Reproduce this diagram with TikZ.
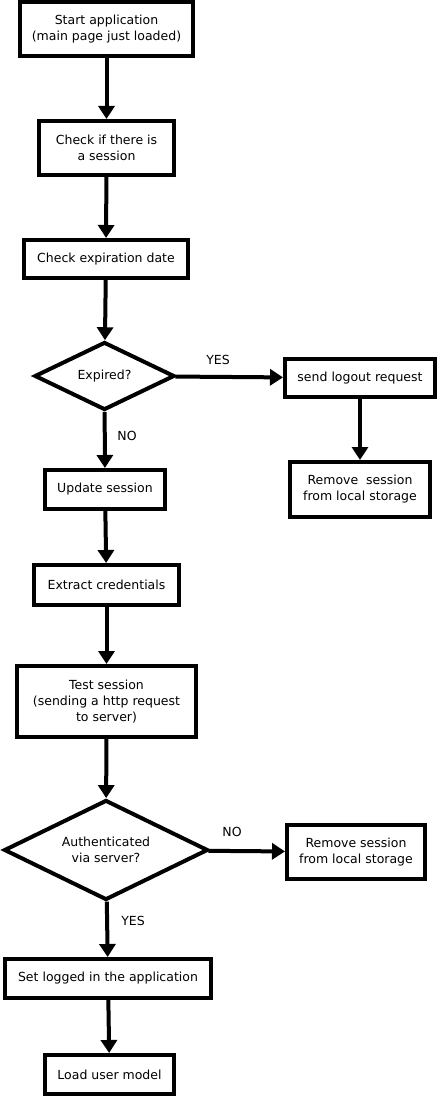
\documentclass[tikz,border=0pt]{standalone}
\usepackage{fontspec}
\setmainfont{DejaVu Sans}
\usepackage{tikz}
\usetikzlibrary{arrows.meta}
\usetikzlibrary{shapes}
\usetikzlibrary{shapes.geometric}

\begin{document}
\begin{tikzpicture}[x=1pt, y=-1pt,
    box/.style={draw, line width=4pt, rectangle, align=center, inner sep=0pt,
      font=\fontsize{12.5}{16}\selectfont},
    test/.style={draw, line width=4pt, diamond, aspect=2, align=center, inner sep=0pt,
      font=\fontsize{12.5}{16}\selectfont},
    flow/.style={line width=4pt, -{Triangle[length=13pt, width=16pt]}},
    tag/.style={font=\fontsize{12.5}{16}\selectfont}
  ]
    \useasboundingbox (0, 0) rectangle (438, 1097);
    \node[box, minimum width=173, minimum height=54] (start) at (106.5, 29) {Start application\\(main page just loaded)};
    \node[box, minimum width=135, minimum height=54] (check) at (106.5, 148) {Check if there is\\a session};
    \node[box, minimum width=164, minimum height=38] (expdate) at (106, 259) {Check expiration date};
    \node[test, minimum width=140, minimum height=68] (expired) at (104.5, 376) {Expired?};
    \node[box, minimum width=150, minimum height=38] (logout) at (360, 378) {send logout request};
    \node[box, minimum width=140, minimum height=55] (remove) at (360, 489.5) {Remove~~session\\from local storage};
    \node[box, minimum width=120, minimum height=39] (update) at (105, 489.5) {Update session};
    \node[box, minimum width=145, minimum height=40] (extract) at (106.5, 585) {Extract credentials};
    \node[box, minimum width=179, minimum height=71] (testsess) at (106.5, 701.5) {Test session\\(sending a http request\\to server)};
    \node[test, minimum width=204, minimum height=100] (auth) at (106, 850) {Authenticated\\via server?};
    \node[box, minimum width=138, minimum height=54] (removeb) at (356, 852) {Remove session\\from local storage};
    \node[box, minimum width=206, minimum height=39] (logged) at (108, 978.5) {Set logged in the application};
    \node[box, minimum width=129, minimum height=39] (model) at (109.5, 1074.5) {Load user model};

    \node[tag] (yesa) at (218, 360) {YES};
    \node[tag] (noa) at (127, 436) {NO};
    \node[tag] (nob) at (232, 832) {NO};
    \node[tag] (yesb) at (133, 921) {YES};

    \draw[flow] (start) -- (check);
    \draw[flow] (check) -- (expdate);
    \draw[flow] (expdate) -- (expired);
    \draw[flow] (expired) -- (logout);
    \draw[flow] (logout) -- (remove);
    \draw[flow] (expired) -- (update);
    \draw[flow] (update) -- (extract);
    \draw[flow] (extract) -- (testsess);
    \draw[flow] (testsess) -- (auth);
    \draw[flow] (auth) -- (removeb);
    \draw[flow] (auth) -- (logged);
    \draw[flow] (logged) -- (model);
  \end{tikzpicture}
\end{document}
